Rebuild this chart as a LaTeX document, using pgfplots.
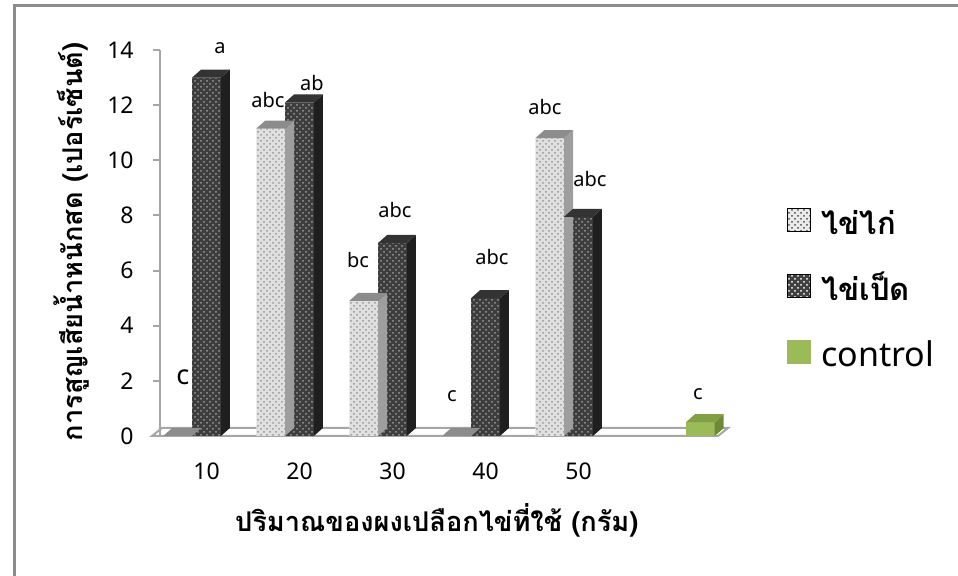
\documentclass[border=0pt]{standalone}
\usepackage{pgfplots}
\pgfplotsset{compat=1.18}
\usepackage{pgfplotstable}
\usetikzlibrary{patterns}
\usepackage{fontspec}
\setmainfont{Noto Sans}
\newfontfamily\thai[Script=Thai]{Loma}
\definecolor{frame}{HTML}{8C8C8C}
\definecolor{floorc}{HTML}{A6A6A6}
\definecolor{ctrl}{HTML}{9BBB59}
\definecolor{ctrltop}{HTML}{819F44}
\definecolor{ctrlside}{HTML}{6E8A35}

% 3D faces drawn as marks at each bar's data point (front top centre)
\pgfdeclareplotmark{topface}{%
  \pgfpathmoveto{\pgfpoint{-7.2pt}{0pt}}%
  \pgfpathlineto{\pgfpoint{-2.7pt}{4pt}}%
  \pgfpathlineto{\pgfpoint{11.7pt}{4pt}}%
  \pgfpathlineto{\pgfpoint{7.2pt}{0pt}}%
  \pgfpathclose\pgfusepathqfill}
\pgfdeclareplotmark{sideface}{%
  \pgfpathmoveto{\pgfpoint{7.2pt}{0pt}}%
  \pgfpathlineto{\pgfpoint{11.7pt}{4pt}}%
  \pgfpathlineto{\pgfpoint{11.7pt}{4pt-\hval*13.786pt}}%
  \pgfpathlineto{\pgfpoint{7.2pt}{-\hval*13.786pt}}%
  \pgfpathclose\pgfusepathqfill}

\pgfplotstableread{
x chicken duck
0 0 13.0
1 11.15 12.1
2 4.9 7.0
3 0 5.0
4 10.8 7.95
}\eggs
\pgfplotstableread{
x control
5 0.5
}\ctrltab
\pgfplotstableread{
x y lab
0.145 14.06 a
0.661 12.17 abc
1.134 12.79 ab
1.629 6.38 bc
2.027 8.19 abc
2.64 1.45 c
3.07 6.49 abc
3.64 11.92 abc
4.124 9.31 abc
5.285 1.52 c
}\lettab
\pgfplotstableread{
x y lab
-0.253 2.14 c
}\lettabbig

\begin{document}
\begin{tikzpicture}
\draw[frame, line width=1.5pt] (7pt,0) -- (7pt,285.3pt) -- (479pt,285.3pt);
\begin{axis}[
  set layers,
  at={(80pt,70pt)}, anchor=south west, scale only axis,
  width=279pt, height=193pt,
  xmin=-0.5, xmax=5.5, ymin=0, ymax=14, clip=false,
  axis lines*=left,
  x axis line style={draw=none},
  y axis line style={draw=floorc, line width=1pt},
  xtick={0,1,2,3,4}, xticklabels={10,20,30,40,50}, xtick style={draw=none},
  ytick={0,2,...,14}, ytick style={draw=floorc, line width=1pt},
  tick align=outside, major tick length=3.5pt,
  ticklabel style={font=\fontsize{11.5}{13}\selectfont},
  /pgf/number format/assume math mode=true,
  xticklabel style={anchor=center, yshift=-14pt},
  yticklabel style={anchor=east, inner sep=0pt, xshift=-9.5pt},
  xlabel={ปริมาณของผงเปลือกไข่ที่ใช้ (กรัม)},
  ylabel={การสูญเสียน้ำหนักสด (เปอร์เซ็นต์)},
  xlabel style={at={(axis description cs:0.496,-0.218)}, anchor=center, font=\thai\bfseries\fontsize{13.6}{15}\selectfont},
  ylabel style={at={(axis description cs:-0.158,0.503)}, anchor=center, font=\thai\bfseries\fontsize{13.6}{15}\selectfont},
  legend style={at={(axis description cs:1.113,0.605)}, anchor=north west, draw=none, fill=none,
    font=\thai\bfseries\fontsize{15.5}{18}\selectfont, row sep=16pt, column sep=5pt,
    nodes={inner sep=0pt, text height=14pt, text depth=3pt}},
  legend cell align=left,
]
\begin{pgfonlayer}{axis background}
\draw[floorc, line width=1pt, fill=white] (axis cs:-0.586,0) -- (axis cs:5.5,0) -- (axis cs:5.607,0.29) -- (axis cs:-0.478,0.29) -- cycle;
\end{pgfonlayer}

\addlegendimage{legend image code/.code={\fill[black!8] (0pt,-4pt) rectangle (11.5pt,7.5pt); \fill[pattern=crosshatch dots, pattern color=black!70] (0pt,-4pt) rectangle (11.5pt,7.5pt);}}
\addlegendentry{ไข่ไก่}
\addlegendimage{legend image code/.code={\fill[black!75] (0pt,-4pt) rectangle (11.5pt,7.5pt); \fill[pattern=crosshatch dots, pattern color=white] (0pt,-4pt) rectangle (11.5pt,7.5pt);}}
\addlegendentry{ไข่เป็ด}
\addlegendimage{legend image code/.code={\fill[ctrl] (0pt,-4pt) rectangle (11.5pt,7.5pt);}}
\addlegendentry{\normalfont\fontsize{17}{20}\selectfont control}

% chicken egg (light)
\addplot[ybar, bar width=0.31, bar shift=-0.31, draw=none, fill=black!12,
  postaction={pattern=crosshatch dots, pattern color=black!40}, forget plot]
  table[x=x, y=chicken] {\eggs};
\addplot[only marks, mark=sideface, mark options={draw=none, fill=black!38}, forget plot,
  visualization depends on={rawy \as \hval}]
  table[x expr=\thisrow{x}-0.31, y=chicken] {\eggs};
\addplot[only marks, mark=topface, mark options={draw=none, fill=black!45}, forget plot]
  table[x expr=\thisrow{x}-0.31, y=chicken] {\eggs};
% duck egg (dark)
\addplot[ybar, bar width=0.31, bar shift=0, draw=none, fill=black!76,
  postaction={pattern=crosshatch dots, pattern color=black!40}, forget plot]
  table[x=x, y=duck] {\eggs};
\addplot[only marks, mark=sideface, mark options={draw=none, fill=black!88}, forget plot,
  visualization depends on={rawy \as \hval}]
  table[x=x, y=duck] {\eggs};
\addplot[only marks, mark=topface, mark options={draw=none, fill=black!80}, forget plot]
  table[x=x, y=duck] {\eggs};
% control
\addplot[ybar, bar width=0.31, bar shift=0.31, draw=none, fill=ctrl, forget plot]
  table[x=x, y=control] {\ctrltab};
\addplot[only marks, mark=sideface, mark options={draw=none, fill=ctrlside}, forget plot,
  visualization depends on={rawy \as \hval}]
  table[x expr=\thisrow{x}+0.31, y=control] {\ctrltab};
\addplot[only marks, mark=topface, mark options={draw=none, fill=ctrltop}, forget plot]
  table[x expr=\thisrow{x}+0.31, y=control] {\ctrltab};
% significance letters
\addplot[draw=none, mark=none, forget plot, nodes near coords, nodes near coords align=center,
  point meta=explicit symbolic,
  every node near coord/.append style={anchor=center, inner sep=0pt, font=\fontsize{10}{12}\selectfont}]
  table[x=x, y=y, meta=lab] {\lettab};
\addplot[draw=none, mark=none, forget plot, nodes near coords, nodes near coords align=center,
  point meta=explicit symbolic,
  every node near coord/.append style={anchor=center, inner sep=0pt, font=\fontsize{13.5}{15}\selectfont}]
  table[x=x, y=y, meta=lab] {\lettabbig};
\end{axis}
\pgfresetboundingbox
\path[use as bounding box] (0,0) rectangle (479pt,288pt);
\end{tikzpicture}
\end{document}
